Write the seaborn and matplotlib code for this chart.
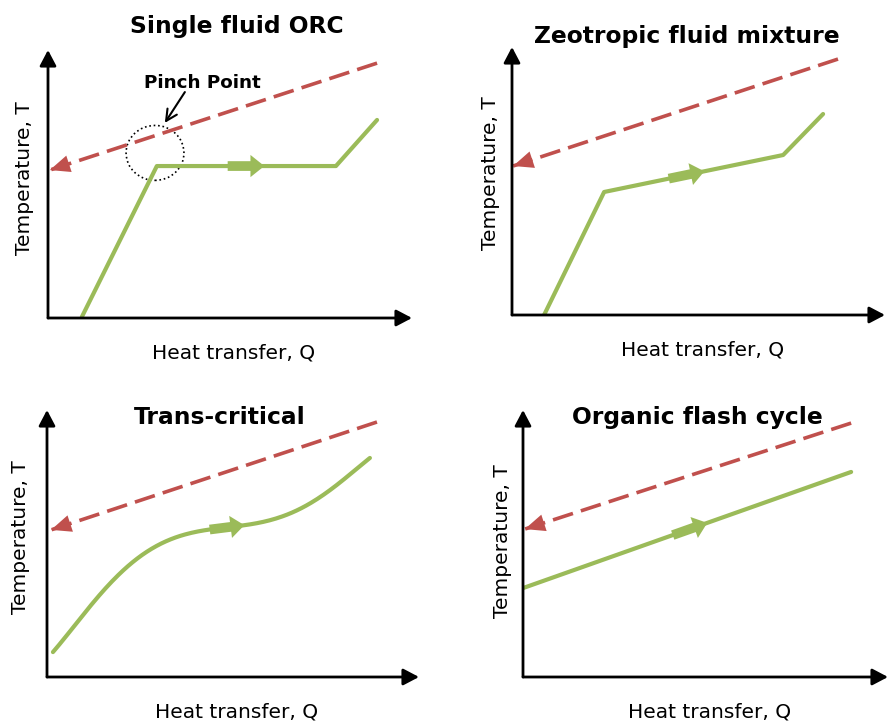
import numpy as np
import pandas as pd
import matplotlib
matplotlib.use("Agg")
import matplotlib.pyplot as plt
import seaborn as sns
from matplotlib.patches import Ellipse, FancyArrowPatch

sns.set_style("white")
plt.rcParams["font.family"] = ["DejaVu Sans"]
plt.rcParams["text.color"] = "black"

RED = "#C0504D"
GREEN = "#9BBB59"

# panel titles
titles = ["Single fluid ORC", "Zeotropic fluid mixture", "Trans-critical", "Organic flash cycle"]

# heat source (dashed red), Q / T in % of axis length, drawn from hot end to cold end
hot_q = [[90.4, 0.5], [87.4, 0.3], [88.7, 1.1], [89.9, 0.5]]
hot_t = [[95.1, 55.2], [95.5, 55.6], [95.5, 55.1], [95.1, 55.4]]

# working fluid (green)
fluid_q = [
    [9.3, 29.9, 79.1, 90.4],
    [8.6, 24.7, 72.7, 83.4],
    [1.6, 11.6, 20.4, 28.5, 38.4, 48.4, 53.8, 62.6, 69.9, 76.9, 86.8],
    [0.0, 89.9],
]
fluid_t = [
    [0.4, 56.7, 56.7, 73.9],
    [0.0, 45.9, 59.7, 75.0],
    [9.4, 26.2, 40.1, 48.7, 53.2, 55.8, 57.7, 60.0, 63.7, 71.2, 82.0],
    [33.3, 76.8],
]

# direction arrow on the fluid line (start Q, tip Q)
flow_arrow = [(48.6, 60.2), (41.3, 52.3), (43.0, 53.8), (40.3, 51.2)]

# pixel frame of every panel: origin x, origin y, x length, y length
frames = [(48, 318, 364, 268), (512, 315, 373, 268), (47, 677, 372, 267), (523, 677, 365, 267)]
title_pos = [(0.52, 1.063), (0.47, 1.015), (0.465, 0.948), (0.477, 0.948)]
ylab_pos = [(-23, 0.522), (-22, 0.53), (-26, 0.524), (-21, 0.51)]

W, H = 888, 724
fig = plt.figure(figsize=(W / 100, H / 100), dpi=100)

for i in range(4):
    x0, y0, xl, yl = frames[i]
    ax = fig.add_axes([x0 / W, 1 - y0 / H, xl / W, yl / H])
    ax.set_xlim(0, 100)
    ax.set_ylim(0, 100)
    for s in ax.spines.values():
        s.set_visible(False)
    ax.set_xticks([])
    ax.set_yticks([])

    # axes with arrow heads
    for tip in [(1, 0), (0, 1)]:
        ax.annotate("", xy=tip, xytext=(0, 0), xycoords="axes fraction",
                    arrowprops=dict(arrowstyle="-|>,head_length=0.95,head_width=0.5",
                                    mutation_scale=10, lw=2.0, color="black",
                                    shrinkA=0, shrinkB=0), annotation_clip=False)

    # heat source
    hot = pd.DataFrame({"Q": hot_q[i], "T": hot_t[i]})
    sns.lineplot(data=hot, x="Q", y="T", ax=ax, color=RED, lw=2.6, sort=False)
    ax.lines[-1].set_dashes((5.8, 2.3))
    q_end, t_end = hot_q[i][1], hot_t[i][1]
    dq = hot_q[i][0] - hot_q[i][1]
    dt = hot_t[i][0] - hot_t[i][1]
    ax.annotate("", xy=(q_end, t_end), xytext=(q_end + dq * 0.06, t_end + dt * 0.06),
                arrowprops=dict(arrowstyle="-|>,head_length=1.45,head_width=0.62",
                                mutation_scale=10, lw=0, color=RED,
                                shrinkA=0, shrinkB=0), annotation_clip=False)

    # working fluid
    fl = pd.DataFrame({"Q": fluid_q[i], "T": fluid_t[i]})
    if i == 2:
        qs = np.linspace(fluid_q[i][0], fluid_q[i][-1], 200)
        coef = np.polyfit(fluid_q[i], fluid_t[i], 5)
        fl = pd.DataFrame({"Q": qs, "T": np.polyval(coef, qs)})
    sns.lineplot(data=fl, x="Q", y="T", ax=ax, color=GREEN, lw=3, sort=False)
    a, b = flow_arrow[i]
    ta = np.interp(a, fl["Q"], fl["T"])
    tb = np.interp(b, fl["Q"], fl["T"])
    ax.add_patch(FancyArrowPatch((a, ta), (b, tb),
                                 arrowstyle="simple,head_length=1.0,head_width=1.6,tail_width=0.7",
                                 mutation_scale=10, color=GREEN, lw=0))

    ax.set_xlabel("")
    ax.set_ylabel("")
    ax.text(0.51, -25 / yl, "Heat transfer, Q", transform=ax.transAxes,
            ha="center", va="top", fontsize=14.5)
    ax.text(ylab_pos[i][0] / xl, ylab_pos[i][1], "Temperature, T", transform=ax.transAxes,
            ha="center", va="center", rotation=90, fontsize=14.5)
    ax.text(title_pos[i][0], title_pos[i][1], titles[i], transform=ax.transAxes,
            ha="center", va="baseline", fontsize=16.8, fontweight="bold")

    if i == 0:
        ax.add_patch(Ellipse((29.4, 61.6), 15.9, 20.5, fill=False, ec="black",
                             lw=1.2, ls=":"))
        ax.text(42.3, 87.7, "Pinch Point", ha="center", va="center",
                fontsize=13.2, fontweight="bold")
        ax.annotate("", xy=(32.1, 72.8), xytext=(37.6, 84.3),
                    arrowprops=dict(arrowstyle="->,head_length=0.8,head_width=0.4",
                                    mutation_scale=10, lw=1.5, color="black",
                                    shrinkA=0, shrinkB=0))

fig.savefig("out.png", dpi=100)
